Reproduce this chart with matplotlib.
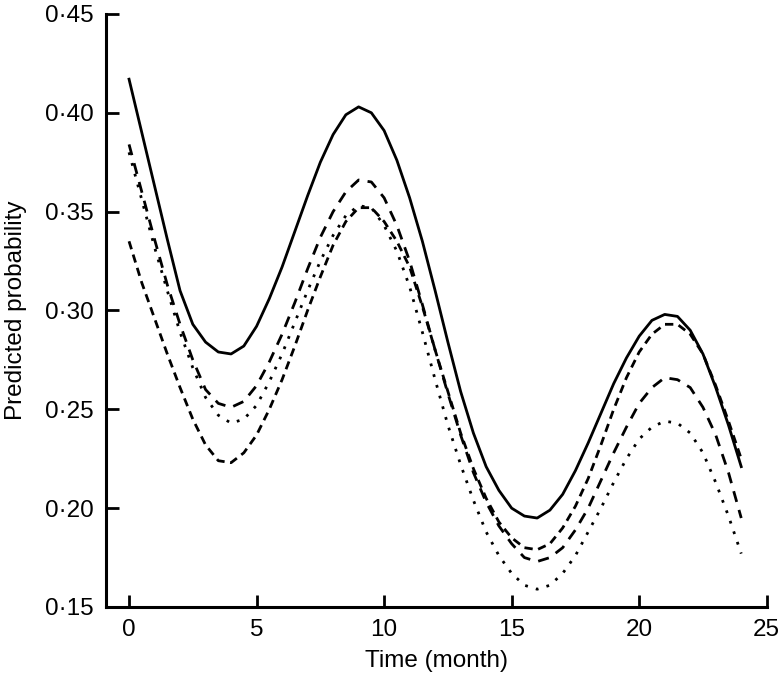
import matplotlib
matplotlib.use('Agg')
import matplotlib.pyplot as plt
from matplotlib.ticker import FuncFormatter

# Time in months (half-month steps)
months = [i * 0.5 for i in range(49)]

# Predicted probability for the four curves
solid = [0.417, 0.390, 0.363, 0.336, 0.310, 0.293, 0.284, 0.279, 0.278, 0.282,
         0.292, 0.306, 0.322, 0.340, 0.358, 0.375, 0.389, 0.399, 0.403, 0.400,
         0.391, 0.376, 0.357, 0.335, 0.310, 0.284, 0.259, 0.238, 0.221, 0.209,
         0.200, 0.196, 0.195, 0.199, 0.207, 0.219, 0.233, 0.248, 0.263, 0.276,
         0.287, 0.295, 0.298, 0.297, 0.290, 0.278, 0.261, 0.242, 0.221]
dashed = [0.384, 0.360, 0.336, 0.313, 0.293, 0.275, 0.260, 0.253, 0.251, 0.254,
          0.262, 0.274, 0.288, 0.304, 0.321, 0.337, 0.350, 0.360, 0.366, 0.365,
          0.357, 0.343, 0.325, 0.303, 0.280, 0.258, 0.237, 0.218, 0.203, 0.191,
          0.182, 0.175, 0.173, 0.175, 0.180, 0.189, 0.200, 0.214, 0.228, 0.241,
          0.253, 0.261, 0.266, 0.265, 0.261, 0.251, 0.237, 0.218, 0.195]
dotted = [0.380, 0.356, 0.332, 0.310, 0.289, 0.271, 0.256, 0.247, 0.243, 0.245,
          0.252, 0.264, 0.278, 0.294, 0.310, 0.325, 0.338, 0.348, 0.353, 0.352,
          0.343, 0.330, 0.312, 0.289, 0.265, 0.242, 0.222, 0.204, 0.188, 0.176,
          0.167, 0.161, 0.159, 0.161, 0.167, 0.176, 0.188, 0.200, 0.213, 0.225,
          0.235, 0.241, 0.244, 0.243, 0.238, 0.228, 0.213, 0.196, 0.177]
longdash = [0.335, 0.314, 0.296, 0.278, 0.261, 0.245, 0.232, 0.224, 0.223, 0.228,
            0.237, 0.250, 0.265, 0.282, 0.300, 0.317, 0.333, 0.345, 0.352, 0.352,
            0.345, 0.335, 0.322, 0.302, 0.280, 0.259, 0.238, 0.220, 0.205, 0.193,
            0.185, 0.180, 0.179, 0.182, 0.190, 0.201, 0.215, 0.232, 0.250, 0.266,
            0.279, 0.288, 0.293, 0.293, 0.288, 0.278, 0.262, 0.244, 0.225]

xticks = [0, 5, 10, 15, 20, 25]
yticks = [0.15, 0.20, 0.25, 0.30, 0.35, 0.40, 0.45]

plt.rcParams['font.family'] = ['Liberation Sans', 'DejaVu Sans']

fig = plt.figure(figsize=(7.8, 6.77), dpi=100)
ax = fig.add_axes([0.136, 0.1034, 0.847, 0.876])

lw = 2
ax.plot(months, solid, color='black', lw=lw, linestyle='-')
ax.plot(months, dashed, color='black', lw=lw, linestyle=(0, (4, 3)))
ax.plot(months, dotted, color='black', lw=lw, linestyle=(0, (1, 3)))
ax.plot(months, longdash, color='black', lw=lw, linestyle=(0, (3, 2)))

ax.set_xlim(-0.9, 25)
ax.set_ylim(0.15, 0.45)
ax.set_xticks(xticks)
ax.set_yticks(yticks)
ax.yaxis.set_major_formatter(FuncFormatter(lambda v, pos: '{:.2f}'.format(v).replace('.', '\u00b7')))

for s in ['top', 'right']:
    ax.spines[s].set_visible(False)
for s in ['left', 'bottom']:
    ax.spines[s].set_linewidth(2.2)

ax.tick_params(direction='in', length=9, width=2, labelsize=17.5, pad=9)

ax.set_xlabel('Time (month)', fontsize=17.5, labelpad=6)
ax.set_ylabel('Predicted probability', fontsize=17.5, labelpad=13)

fig.savefig('out.png', dpi=100)
